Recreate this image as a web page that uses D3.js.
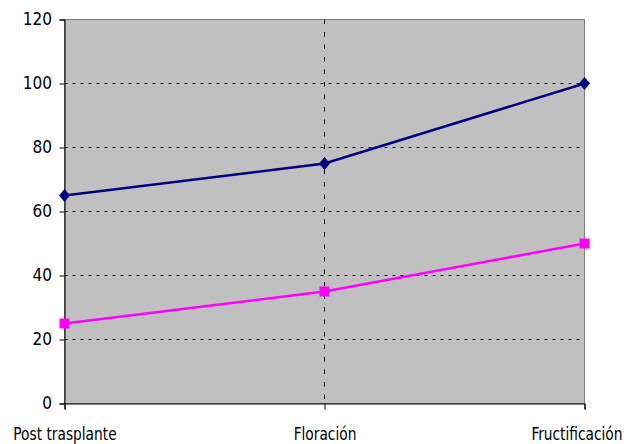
<!DOCTYPE html>
<html><head><meta charset="utf-8">
<script src="https://cdn.jsdelivr.net/npm/d3@7"></script>
<style>body{margin:0;background:#fff}svg{display:block}</style>
</head><body>
<svg id="c" width="633" height="444"></svg>
<script>
const categories = ["Post trasplante", "Floración", "Fructificación"];
const seriesA = [65, 75, 100];
const seriesB = [25, 35, 50];
const yTicks = [0, 20, 40, 60, 80, 100, 120];

const svg = d3.select("#c");
const L = 64.5, R = 584.5, T = 19.5, B = 403.5;
const x = d3.scalePoint().domain(categories).range([L, R]);
const y = d3.scaleLinear().domain([0, 120]).range([B, T]);
const font = "'DejaVu Sans Condensed', sans-serif";
const fs = 17;
const sx = 0.9;

svg.append("rect").attr("x", L).attr("y", T).attr("width", R - L).attr("height", B - T)
  .attr("fill", "#C0C0C0").attr("stroke", "#808080").attr("stroke-width", 1);

// horizontal gridlines
svg.append("g").selectAll("line").data(yTicks.filter(d => d > 0 && d < 120)).join("line")
  .attr("x1", L).attr("x2", R).attr("y1", d => y(d)).attr("y2", d => y(d))
  .attr("stroke", "#000").attr("stroke-dasharray", "3,5").attr("stroke-width", 1);
// vertical gridline (middle category)
svg.append("g").selectAll("line").data(categories.slice(1, -1)).join("line")
  .attr("x1", d => x(d)).attr("x2", d => x(d)).attr("y1", T).attr("y2", B)
  .attr("stroke", "#000").attr("stroke-dasharray", "4.5,8").attr("stroke-width", 1);

// axes
const yAxis = d3.axisLeft(y).tickValues(yTicks).tickSize(5).tickPadding(7.5);
const gy = svg.append("g").attr("transform", `translate(${L},0)`).call(yAxis);
gy.select(".domain").attr("stroke", "#000");
gy.selectAll("text").attr("font-family", font).attr("font-size", fs).attr("fill", "#000");

const xAxis = d3.axisBottom(x).tickSize(6).tickPadding(18);
const gx = svg.append("g").attr("transform", `translate(0,${B})`).call(xAxis);
gx.select(".domain").attr("stroke", "#000");
gx.selectAll("text").attr("font-family", font).attr("font-size", fs).attr("fill", "#000")
  .attr("transform", `scale(${sx},1)`);
gx.selectAll(".tick text").attr("text-anchor", (d, i) => i === categories.length - 1 ? "end" : "middle")
  .attr("dx", (d, i) => i === categories.length - 1 ? 37.5 / sx : 0);

const line = d3.line().x((d, i) => x(categories[i])).y(d => y(d));
svg.append("path").datum(seriesA).attr("d", line).attr("fill", "none").attr("stroke", "#000080").attr("stroke-width", 2.5);
svg.append("path").datum(seriesB).attr("d", line).attr("fill", "none").attr("stroke", "#FF00FF").attr("stroke-width", 2.5);

svg.append("g").selectAll("path").data(seriesA).join("path")
  .attr("d", "M0,-6.5L5.5,0L0,6.5L-5.5,0Z")
  .attr("transform", (d, i) => `translate(${x(categories[i])},${y(d)})`)
  .attr("fill", "#000080");
svg.append("g").selectAll("rect").data(seriesB).join("rect")
  .attr("x", (d, i) => x(categories[i]) - 5).attr("y", d => y(d) - 5)
  .attr("width", 10).attr("height", 10).attr("fill", "#FF00FF");
</script>
</body></html>
